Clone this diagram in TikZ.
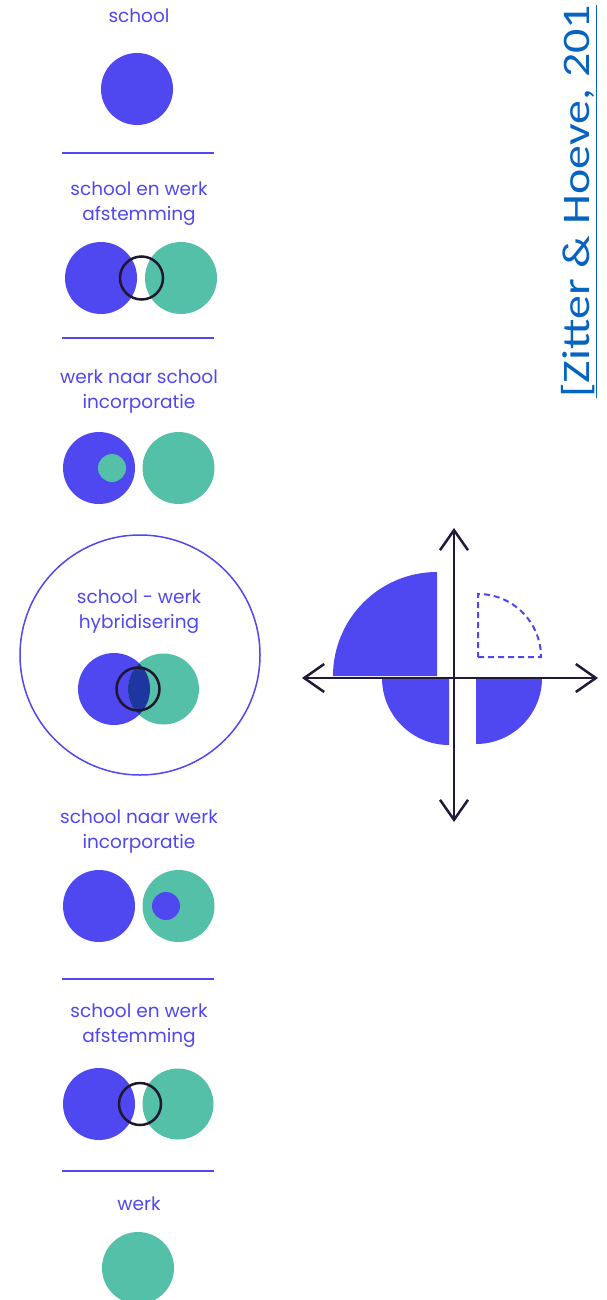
\documentclass[tikz,border=0pt]{standalone}
\usepackage{fontspec}
\setmainfont{Poppins}
\newfontfamily\reffont{Carlito}
\usetikzlibrary{arrows.meta}
\definecolor{schoolblue}{HTML}{4F47EF}
\definecolor{werkgreen}{HTML}{55C0A8}
\definecolor{inkdark}{HTML}{20162F}
\definecolor{lensblue}{HTML}{1E36A0}
\definecolor{axisdark}{HTML}{22193A}
\definecolor{linkblue}{HTML}{0563C1}
\begin{document}
\begin{tikzpicture}[x=1pt,y=-1pt,>={Straight Barb[length=20pt,width=28pt]}]
  \tikzstyle{kindtext}=[text=schoolblue,align=center,anchor=base,inner sep=0pt,
                        font=\fontsize{18.5}{25}\selectfont]
  \tikzstyle{school}=[circle,fill=schoolblue,minimum size=72pt,inner sep=0pt]
  \tikzstyle{werk}=[circle,fill=werkgreen,minimum size=72pt,inner sep=0pt]
  \tikzstyle{ring}=[circle,draw=inkdark,line width=2.5pt,minimum size=43pt,inner sep=0pt]
  \tikzstyle{core}=[circle,minimum size=28pt,inner sep=0pt]
  \tikzstyle{divider}=[schoolblue,line width=1.8pt]
  \tikzstyle{axis}=[axisdark,line width=2.5pt,<->]
  \tikzstyle{quarter}=[fill=schoolblue]
  \useasboundingbox (0,0) rectangle (607,1300);

  \node [kindtext] (t1) at (139,23) {school};
  \node [school] (s1) at (137,89) {};

  \node [kindtext] (t2) at (139,220) {school en werk\\afstemming};
  \node [school] (s2) at (101,278) {};
  \node [werk] (w2) at (181,278) {};
  \node [ring] (r2) at (141.5,278) {};

  \node [kindtext] (t3) at (139,408) {werk naar school\\incorporatie};
  \node [school] (s3) at (99,468) {};
  \node [werk] (w3) at (178.5,468) {};
  \node [core,fill=werkgreen] (c3) at (112,468) {};

  \node [circle,draw=schoolblue,line width=1.5pt,minimum size=240pt] (hybrid) at (140,655) {};
  \node [kindtext] (t4) at (139,628) {school - werk\\hybridisering};
  \node [school] (s4) at (114,689) {};
  \node [werk,minimum size=71pt] (w4) at (163.5,689) {};
  \begin{scope}
    \clip (s4.center) circle (36);
    \fill [lensblue] (w4.center) circle (35.5);
  \end{scope}
  \node [ring] (r4) at (138,689) {};

  \node [kindtext] (t5) at (139,848) {school naar werk\\incorporatie};
  \node [school] (s5) at (99,906) {};
  \node [werk] (w5) at (178.5,906) {};
  \node [core,fill=schoolblue] (c5) at (166,906) {};

  \node [kindtext] (t6) at (139,1042) {school en werk\\afstemming};
  \node [school] (s6) at (99,1104) {};
  \node [werk,minimum size=71pt] (w6) at (178,1104) {};
  \node [ring,minimum size=42pt] (r6) at (140,1104) {};

  \node [kindtext] (t7) at (139,1210) {werk};
  \node [werk] (w7) at (138,1268) {};

  \foreach \y in {153,338,979,1171}
    \draw [divider] (62,\y) -- (214,\y);

  \fill [quarter] (437,676) -- ++(-104,0) arc[start angle=180,end angle=270,radius=104] -- cycle;
  \fill [quarter] (449,678) -- ++(-67,0) arc[start angle=180,end angle=90,radius=67] -- cycle;
  \fill [quarter] (476,678) -- ++(66,0) arc[start angle=0,end angle=90,radius=66] -- cycle;
  \draw [schoolblue,line width=2pt,dash pattern=on 6pt off 4pt]
    (478,657) -- ++(63,0) arc[start angle=0,end angle=-90,radius=63] -- cycle;

  \coordinate (top) at (454,528);
  \coordinate (bottom) at (454,822);
  \coordinate (left) at (302,678);
  \coordinate (right) at (598,678);
  \draw [axis] (bottom) -- (top);
  \draw [axis] (left) -- (right);

  \node [rotate=90,anchor=base west,inner sep=0pt,text=linkblue,xscale=1.23,
         font=\reffont\fontsize{39}{39}\selectfont] (source) at (589,398)
    {\underline{[Zitter \& Hoeve, 201}};
\end{tikzpicture}
\end{document}
